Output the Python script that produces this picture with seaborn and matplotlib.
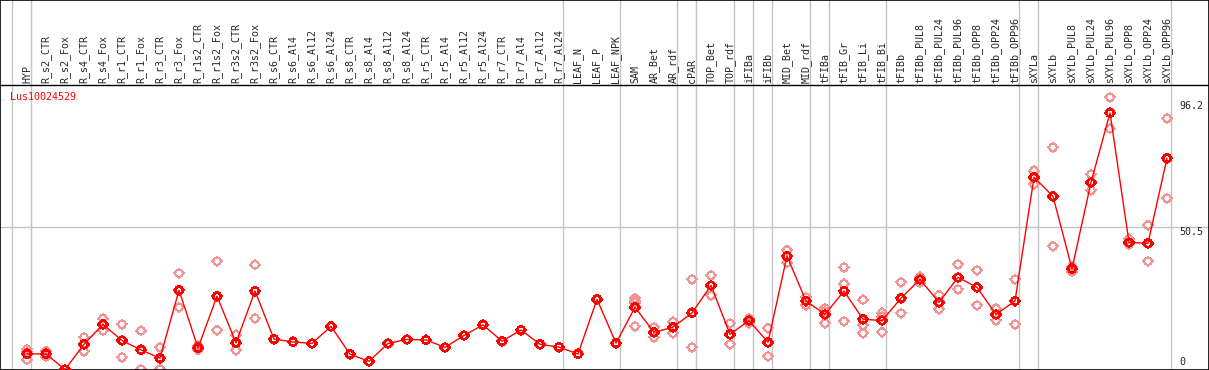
import numpy as np
import pandas as pd
import matplotlib
matplotlib.use("Agg")
import matplotlib.pyplot as plt
import matplotlib.transforms as mtransforms
from matplotlib.path import Path
import seaborn as sns

gene = "Lus10024529"

samples = ["HYP", "R_s2_CTR", "R_s2_Fox", "R_s4_CTR", "R_s4_Fox", "R_r1_CTR", "R_r1_Fox",
           "R_r3_CTR", "R_r3_Fox", "R_r1s2_CTR", "R_r1s2_Fox", "R_r3s2_CTR", "R_r3s2_Fox",
           "R_s6_CTR", "R_s6_Al4", "R_s6_Al12", "R_s6_Al24", "R_s8_CTR", "R_s8_Al4",
           "R_s8_Al12", "R_s8_Al24", "R_r5_CTR", "R_r5_Al4", "R_r5_Al12", "R_r5_Al24",
           "R_r7_CTR", "R_r7_Al4", "R_r7_Al12", "R_r7_Al24", "LEAF_N", "LEAF_P", "LEAF_NPK",
           "SAM", "AR_Bet", "AR_rdf", "cPAR", "TOP_Bet", "TOP_rdf", "iFIBa", "iFIBb",
           "MID_Bet", "MID_rdf", "tFIBa", "tFIB_Gr", "tFIB_Li", "tFIB_Bi", "tFIBb",
           "tFIBb_PUL8", "tFIBb_PUL24", "tFIBb_PUL96", "tFIBb_OPP8", "tFIBb_OPP24",
           "tFIBb_OPP96", "sXYLa", "sXYLb", "sXYLb_PUL8", "sXYLb_PUL24", "sXYLb_PUL96",
           "sXYLb_OPP8", "sXYLb_OPP24", "sXYLb_OPP96"]

means = [6.0, 6.0, 0.5, 9.4, 16.4, 10.7, 7.4, 4.5, 28.4, 8.1, 26.3, 9.9, 28.1,
         11.2, 10.2, 9.7, 15.7, 5.9, 3.4, 9.7, 11.1, 10.9, 8.3, 12.5, 16.2, 10.5,
         14.4, 9.4, 8.4, 6.0, 25.2,
         9.8, 22.4, 13.6, 15.4, 20.4, 30.1, 12.9, 17.7, 10.1, 40.4, 24.6, 19.9,
         28.1, 18.2, 17.7, 25.6, 32.2, 24.1, 32.9, 29.4, 19.9, 24.6,
         68.1, 61.4, 35.9, 66.3, 90.7, 45.2, 44.9, 74.8]

replicates = [[7.6, 6.5, 3.9], [7.0, 5.0], [], [11.8, 6.9], [18.4, 14.2], [16.4, 4.8],
              [14.1, 0.6], [8.3, 0.6], [34.4, 22.4], [8.8, 7.4], [38.6, 14.4],
              [12.7, 7.3], [37.3, 18.5],
              [], [], [], [], [], [], [], [], [], [], [], [], [], [], [], [], [], [], [],
              [25.6, 24.7, 24.0, 15.7], [15.4, 11.8], [17.3, 13.3], [32.2, 8.3],
              [33.6, 26.6], [16.8, 9.4], [18.4, 17.9, 16.8], [15.1, 5.2], [42.5, 38.1],
              [25.9, 23.1], [22.1, 21.0, 16.8], [36.4, 30.6, 17.5], [25.0, 16.1, 13.3],
              [20.4, 19.1, 13.7], [31.2, 20.3], [33.1, 31.0], [26.7, 21.7], [37.5, 28.7],
              [35.4, 23.1], [21.9, 17.8], [32.2, 16.4],
              [70.4, 65.7], [78.6, 43.9], [36.7, 34.9], [69.1, 63.5], [96.2, 85.2],
              [46.4, 44.5], [51.3, 38.6], [88.8, 60.7]]

# last sample index of each tissue group (-1 = border before the first one)
group_ends = [-1, 0, 28, 31, 34, 35, 37, 38, 39, 41, 42, 45, 52, 53, 60]

y_ticks = [0, 50.5, 96.2]
y_ticklabels = ["0", "50.5", "96.2"]

pos = np.arange(len(samples))
df_mean = pd.DataFrame({"pos": pos, "value": means})
df_rep = pd.DataFrame([(i, v) for i, vals in enumerate(replicates) for v in vals],
                      columns=["pos", "value"])

# circle marker with four short ticks
t = np.linspace(0, 2 * np.pi, 33)
verts = [(np.cos(a), np.sin(a)) for a in t]
codes = [Path.MOVETO] + [Path.LINETO] * 31 + [Path.CLOSEPOLY]
for dx, dy in [(0, 1), (0, -1), (1, 0), (-1, 0)]:
    verts += [(dx, dy), (dx * 1.35, dy * 1.35)]
    codes += [Path.MOVETO, Path.LINETO]
sun = Path(verts, codes)

sns.set_style("white")
plt.rcParams["font.family"] = ["DejaVu Sans Mono"]
plt.rcParams["path.simplify"] = False

fig = plt.figure(figsize=(12.09, 3.70), dpi=100)
ax = fig.add_axes([0, 0, 1, 1])

for g in group_ends:
    ax.axvline(g + 0.21, color="#c4c4c4", lw=1, zorder=0)
ax.axhline(50.5, color="#c4c4c4", lw=1, zorder=0)
ax.axhline(100.5, color="black", lw=1, zorder=1)

sns.scatterplot(data=df_rep, x="pos", y="value", marker=sun, s=52,
                facecolors="none", edgecolor="#f09494", linewidth=0.75,
                antialiased=False, ax=ax, zorder=2)
sns.lineplot(data=df_mean, x="pos", y="value", color="red", lw=1, ax=ax, zorder=3)
sns.scatterplot(data=df_mean, x="pos", y="value", marker=sun, s=52,
                facecolors="none", edgecolor="red", linewidth=1.1,
                antialiased=False, ax=ax, zorder=4)

ax.set_xlim(-27 / 19, (1209 - 27) / 19)
ax.set_ylim(0.35, 130.4)
ax.set_xticks([])
ax.set_yticks([])
ax.set_xlabel("")
ax.set_ylabel("")
for s in ax.spines.values():
    s.set_visible(True)
    s.set_color("black")
    s.set_linewidth(1.2)

trans = mtransforms.blended_transform_factory(ax.transData, ax.transAxes)
for i, name in enumerate(samples):
    ax.text(i, 1 - 83 / 370, name, rotation=90, ha="center", va="bottom",
            fontsize=7.2, transform=trans)

ax.text(10 / 1209, 1 - 97 / 370, gene, color="red", fontsize=7.2,
        ha="left", va="center", transform=ax.transAxes)

ytrans = mtransforms.blended_transform_factory(ax.transAxes, ax.transData)
for val, lab in zip(y_ticks, y_ticklabels):
    if val == 0:
        off, va = 4, "bottom"
    elif val == max(y_ticks):
        off, va = -4, "top"
    else:
        off, va = 0, "top"
    ax.annotate(lab, xy=(1179 / 1209, val), xycoords=ytrans, xytext=(0, off),
                textcoords="offset pixels", ha="left", va=va, fontsize=7.2)

fig.savefig("out.png", dpi=100)
